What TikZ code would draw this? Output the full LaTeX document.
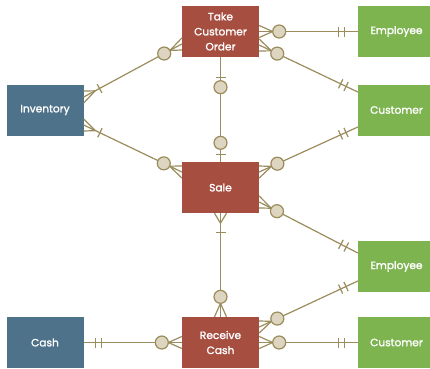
\documentclass[tikz,border=0pt]{standalone}
\usepackage{fontspec}
\newfontfamily\boxfont{Poppins}[FakeBold=1.6]
\usetikzlibrary{calc}

\definecolor{evred}{HTML}{A64E40}
\definecolor{resblue}{HTML}{4E728A}
\definecolor{agtgreen}{HTML}{7DB450}
\definecolor{relline}{HTML}{9A8C5C}
\definecolor{ringfill}{HTML}{DDD5BF}

\tikzset{
  entity/.style={rectangle, inner sep=0pt, minimum width=77pt, minimum height=51pt,
    text=white, align=center, font=\boxfont\fontsize{10.6}{15}\selectfont},
  event/.style={entity, fill=evred},
  resource/.style={entity, fill=resblue},
  agent/.style={entity, fill=agtgreen},
  rel/.style={draw=relline, line width=1.2pt},
  ring/.style={circle, draw=relline, fill=ringfill, line width=1.2pt,
    inner sep=0pt, minimum size=13pt},
}

% crow's foot: edge point, far end, vertex distance, prong offset on the edge
\newcommand\crowfoot[4]{%
  \draw[rel] ($(#1)+(#4)$) -- ($(#1)!#3!(#2)$) -- ($(#1)-(#4)$);}
% single bar across a connector: from, to, distance, half length
\newcommand\crossbar[4]{%
  \path ($(#1)!#3!(#2)$) coordinate (barmid);
  \draw[rel] ($(barmid)!#4!90:(#2)$) -- ($(barmid)!#4!-90:(#2)$);}
% optional ring on a connector: from, to, distance
\newcommand\optring[3]{\node[ring] at ($(#1)!#3!(#2)$) {};}

\begin{document}
\begin{tikzpicture}[x=1pt, y=-1pt]
  \useasboundingbox (0,0) rectangle (430,368);
  \clip (0,0) rectangle (430,368);

  % events
  \node[event] (tco)  at (220.5,31.5)  {Take\\Customer\\Order};
  \node[event] (sale) at (220.5,187.5) {Sale};
  \node[event] (rc)   at (220.5,342.5) {Receive\\Cash};
  % resources
  \node[resource] (inv)  at (45,110)   {Inventory};
  \node[resource] (cash) at (45,342.5) {Cash};
  % agents
  \node[agent] (emp1)  at (396.5,31.5)  {Employee};
  \node[agent] (cust1) at (396.5,110)   {Customer};
  \node[agent] (emp2)  at (396.5,266.5) {Employee};
  \node[agent] (cust2) at (396.5,342.5) {Customer};

  % connector end points
  \coordinate (a1) at ($(inv.east)+(0,-13)$);
  \coordinate (a2) at ($(tco.west)+(0,12.5)$);
  \coordinate (b1) at ($(inv.east)+(0,15)$);
  \coordinate (b2) at ($(sale.west)+(0,-15.5)$);
  \coordinate (c1) at (tco.east);
  \coordinate (c2) at (emp1.west);
  \coordinate (d1) at ($(tco.east)+(0,13.5)$);
  \coordinate (d2) at ($(cust1.west)+(0,-18)$);
  \coordinate (e1) at ($(sale.east)+(0,-15.5)$);
  \coordinate (e2) at ($(cust1.west)+(0,17)$);
  \coordinate (f1) at (tco.south);
  \coordinate (f2) at (sale.north);
  \coordinate (g1) at (sale.south);
  \coordinate (g2) at (rc.north);
  \coordinate (h1) at ($(sale.east)+(0,14.5)$);
  \coordinate (h2) at ($(emp2.west)+(0,-13.5)$);
  \coordinate (i1) at ($(rc.east)+(0,-15.5)$);
  \coordinate (i2) at ($(emp2.west)+(0,14.5)$);
  \coordinate (j1) at (rc.east);
  \coordinate (j2) at (cust2.west);
  \coordinate (k1) at (cash.east);
  \coordinate (k2) at (rc.west);

  % connectors
  \foreach \p in {a,b,c,d,e,f,g,h,i,j,k}
    \draw[rel] (\p1) -- (\p2);

  % resource ends: one or many
  \crowfoot{a1}{a2}{13pt}{0,6}  \crossbar{a1}{a2}{18pt}{5pt}
  \crowfoot{b1}{b2}{13pt}{0,6}  \crossbar{b1}{b2}{18pt}{5pt}
  % cash end: exactly one
  \crossbar{k1}{k2}{12pt}{5pt}  \crossbar{k1}{k2}{18pt}{5pt}
  % agent ends: exactly one
  \foreach \p in {c,d,e,h,i,j}{
    \crossbar{\p2}{\p1}{13pt}{5pt}
    \crossbar{\p2}{\p1}{19pt}{5pt}
  }
  % event ends: zero or many
  \crowfoot{a2}{a1}{13.5pt}{0,6}
  \crowfoot{b2}{b1}{13.5pt}{0,6}
  \crowfoot{k2}{k1}{13.5pt}{0,6}
  \foreach \p in {c,d,e,h,i,j}{
    \crowfoot{\p1}{\p2}{13.5pt}{0,6}
  }
  \crowfoot{g2}{g1}{13.5pt}{6,0}
  % take customer order -- sale: zero or one at both ends
  \crossbar{f1}{f2}{20pt}{5pt}
  \crossbar{f2}{f1}{7pt}{5pt}
  % sale end of sale -- receive cash: one or many
  \crowfoot{g1}{g2}{10pt}{6,0}
  \crossbar{g1}{g2}{19pt}{5pt}

  % rings
  \optring{a2}{a1}{20pt}
  \optring{b2}{b1}{20pt}
  \optring{k2}{k1}{20pt}
  \optring{g2}{g1}{20pt}
  \optring{f1}{f2}{30pt}
  \optring{f2}{f1}{19pt}
  \foreach \p in {c,d,e,h,i,j}{
    \optring{\p1}{\p2}{20pt}
  }
\end{tikzpicture}
\end{document}
